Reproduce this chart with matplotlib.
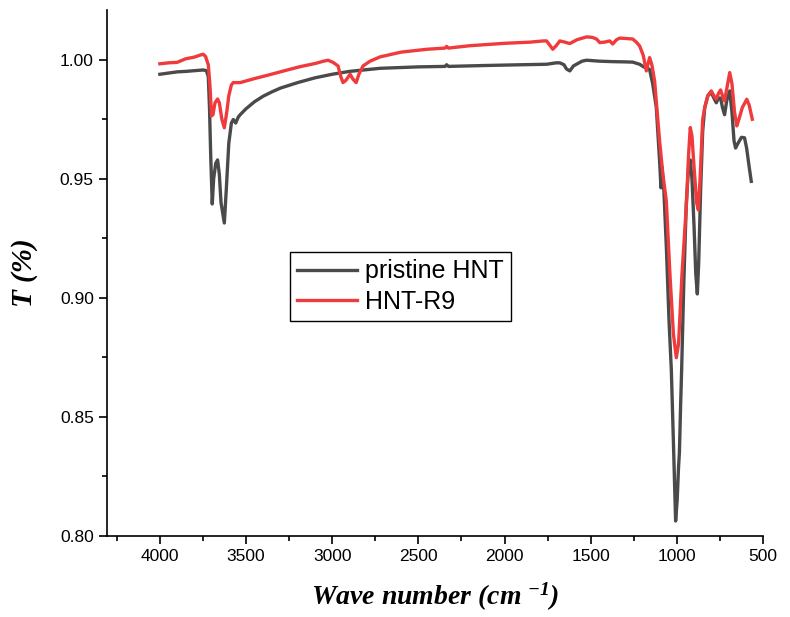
import matplotlib
matplotlib.use('Agg')
import matplotlib.pyplot as plt
from matplotlib.ticker import MultipleLocator

# ── 데이터 ──
pristine_wn = [4000, 3950, 3900, 3850, 3800, 3748, 3730, 3719, 3712, 3705,
               3696, 3688, 3676, 3665, 3655, 3645, 3626, 3615, 3600, 3585,
               3574, 3560, 3545, 3534, 3500, 3450, 3400, 3350, 3300, 3200,
               3100, 3000, 2900, 2722, 2500, 2345, 2336, 2325, 2100, 1900,
               1756, 1700, 1679, 1655, 1640, 1621, 1600, 1550, 1524, 1450,
               1372, 1300, 1256, 1216, 1190, 1177, 1158, 1140, 1119, 1100,
               1092, 1086, 1075, 1060, 1045, 1032, 1020, 1007, 998, 990,
               985, 978, 972, 960, 945, 932, 922, 912, 900, 890,
               881, 873, 862, 850, 838, 820, 800, 785, 771, 758,
               746, 735, 723, 710, 693, 680, 668, 659, 645, 625,
               607, 595, 580, 568]
pristine_t = [0.9940, 0.9945, 0.9950, 0.9952, 0.9955, 0.9958, 0.9955, 0.9930, 0.9800, 0.9600,
              0.9395, 0.9500, 0.9565, 0.9580, 0.9520, 0.9400, 0.9315, 0.9450, 0.9650, 0.9735,
              0.9750, 0.9735, 0.9760, 0.9770, 0.9795, 0.9825, 0.9848, 0.9866, 0.9882, 0.9905,
              0.9925, 0.9940, 0.9952, 0.9965, 0.9971, 0.9973, 0.9980, 0.9973, 0.9977, 0.9980,
              0.9982, 0.9988, 0.9988, 0.9980, 0.9962, 0.9954, 0.9975, 0.9995, 0.9999, 0.9995,
              0.9993, 0.9992, 0.9991, 0.9982, 0.9970, 0.9968, 0.9960, 0.9900, 0.9800, 0.9576,
              0.9463, 0.9550, 0.9450, 0.9200, 0.8900, 0.8700, 0.8400, 0.8063, 0.8150, 0.8290,
              0.8350, 0.8550, 0.8700, 0.9050, 0.9400, 0.9550, 0.9580, 0.9500, 0.9300, 0.9100,
              0.9017, 0.9150, 0.9450, 0.9700, 0.9800, 0.9850, 0.9863, 0.9840, 0.9820, 0.9840,
              0.9840, 0.9800, 0.9770, 0.9830, 0.9870, 0.9780, 0.9660, 0.9630, 0.9650, 0.9675,
              0.9673, 0.9630, 0.9550, 0.9490]

r9_wn = [4000, 3950, 3900, 3850, 3800, 3760, 3748, 3735, 3719, 3710,
         3700, 3692, 3680, 3665, 3655, 3640, 3626, 3612, 3600, 3585,
         3574, 3534, 3450, 3379, 3302, 3186, 3100, 3050, 3024, 2995,
         2966, 2950, 2937, 2920, 2896, 2880, 2861, 2845, 2821, 2780,
         2722, 2600, 2450, 2345, 2336, 2325, 2200, 2000, 1850, 1775,
         1756, 1740, 1720, 1700, 1679, 1650, 1621, 1580, 1524, 1490,
         1466, 1447, 1420, 1389, 1372, 1350, 1331, 1290, 1256, 1235,
         1216, 1195, 1177, 1165, 1158, 1145, 1129, 1100, 1081, 1061,
         1040, 1020, 1003, 990, 970, 943, 932, 922, 912, 900,
         885, 875, 865, 850, 838, 820, 800, 785, 771, 758,
         746, 735, 723, 710, 693, 680, 665, 652, 640, 620,
         594, 580, 562]
r9_t = [0.9984, 0.9988, 0.9990, 1.0005, 1.0012, 1.0022, 1.0024, 1.0015, 0.9980, 0.9900,
        0.9765, 0.9770, 0.9820, 0.9836, 0.9820, 0.9750, 0.9715, 0.9780, 0.9850, 0.9895,
        0.9905, 0.9905, 0.9922, 0.9935, 0.9950, 0.9972, 0.9985, 0.9995, 0.9999, 0.9990,
        0.9975, 0.9930, 0.9905, 0.9915, 0.9940, 0.9920, 0.9905, 0.9940, 0.9975, 0.9995,
        1.0013, 1.0033, 1.0045, 1.0050, 1.0057, 1.0050, 1.0060, 1.0070, 1.0075, 1.0080,
        1.0080, 1.0065, 1.0045, 1.0060, 1.0080, 1.0075, 1.0069, 1.0085, 1.0097, 1.0095,
        1.0088, 1.0073, 1.0075, 1.0080, 1.0067, 1.0085, 1.0092, 1.0090, 1.0088, 1.0075,
        1.0059, 1.0020, 0.9954, 0.9990, 1.0010, 0.9980, 0.9912, 0.9660, 0.9520, 0.9408,
        0.9100, 0.8850, 0.8749, 0.8807, 0.9100, 0.9408, 0.9600, 0.9716, 0.9680, 0.9550,
        0.9400, 0.9370, 0.9500, 0.9750, 0.9800, 0.9850, 0.9870, 0.9850, 0.9836, 0.9860,
        0.9874, 0.9850, 0.9828, 0.9880, 0.9947, 0.9900, 0.9780, 0.9723, 0.9750, 0.9800,
        0.9835, 0.9810, 0.9751]

series_labels = ['pristine HNT', 'HNT-R9']
series_colors = ['#4a4a4a', '#ef3b3b']

plt.rcParams['font.family'] = ['Liberation Sans', 'DejaVu Sans']
plt.rcParams['mathtext.fontset'] = 'custom'
plt.rcParams['mathtext.rm'] = 'Liberation Serif:bold:italic'
plt.rcParams['mathtext.it'] = 'Liberation Serif:bold:italic'

fig = plt.figure(figsize=(7.9, 6.17), dpi=100)
ax = fig.add_axes([0.1354, 0.1313, 0.8304, 0.8525])

ax.plot(pristine_wn, pristine_t, color=series_colors[0], lw=2.4, label=series_labels[0])
ax.plot(r9_wn, r9_t, color=series_colors[1], lw=2.4, label=series_labels[1])

ax.set_xlim(4307, 500)
ax.set_ylim(0.80, 1.021)
ax.xaxis.set_major_locator(MultipleLocator(500))
ax.xaxis.set_minor_locator(MultipleLocator(250))
ax.yaxis.set_major_locator(MultipleLocator(0.05))
ax.yaxis.set_minor_locator(MultipleLocator(0.025))
ax.yaxis.set_major_formatter(plt.FormatStrFormatter('%.2f'))

for s in ['top', 'right']:
    ax.spines[s].set_visible(False)
for s in ['left', 'bottom']:
    ax.spines[s].set_linewidth(1.2)

ax.tick_params(which='major', direction='out', length=6, width=1.2, labelsize=12.5)
ax.tick_params(which='minor', direction='out', length=3.5, width=1.2)

ax.set_xlabel(r'Wave number (cm $^{-1}$)', family='Liberation Serif', weight='bold',
              style='italic', fontsize=20, labelpad=12)
ax.set_ylabel('T (%)', family='Liberation Serif', weight='bold', style='italic',
              fontsize=21, labelpad=16)

leg = ax.legend(loc='upper left', bbox_to_anchor=(0.279, 0.540), fontsize=18,
                frameon=True, fancybox=False, edgecolor='black', framealpha=1,
                handlelength=2.4, handletextpad=0.3, labelspacing=0.25,
                borderpad=0.3, borderaxespad=0)
leg.get_frame().set_linewidth(1.0)

fig.savefig('out.png', dpi=100)
